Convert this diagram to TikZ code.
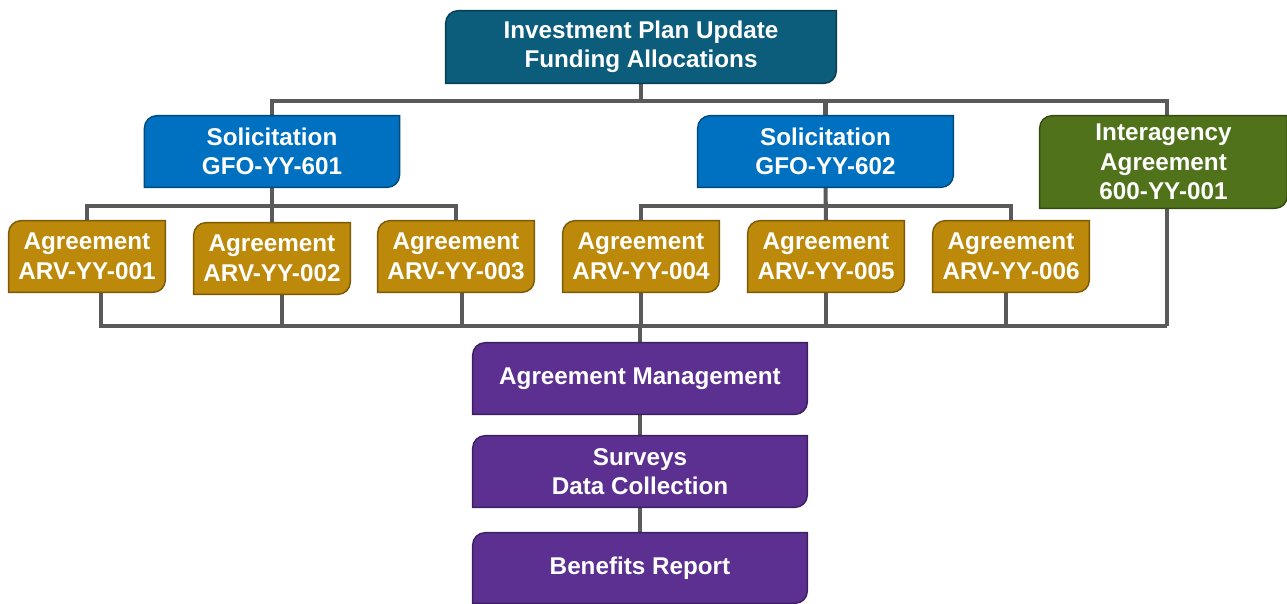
\documentclass[tikz,border=0pt]{standalone}
\usepackage{fontspec}
\setmainfont{Liberation Sans}
\usetikzlibrary{backgrounds}

\definecolor{plancol}{RGB}{12,92,124}
\definecolor{solcol}{RGB}{0,112,192}
\definecolor{intercol}{RGB}{80,114,26}
\definecolor{arvcol}{RGB}{188,137,10}
\definecolor{mgmtcol}{RGB}{92,48,144}
\definecolor{linecol}{RGB}{90,90,90}

\begin{document}
\begin{tikzpicture}[x=0.02cm,y=-0.02cm]
            \tikzstyle{box} = [align=center,inner sep=0pt,text=white,font=\fontsize{13.8}{16.8}\selectfont\bfseries]
            \tikzstyle{conn} = [line width=2.3pt,draw=linecol]
            \def \rad{7pt}
            \useasboundingbox (0,0) rectangle (1287,603);

            % boxes
            \node[box,minimum width=7.8cm,minimum height=1.44cm] (top) at (641,47) {Investment Plan Update\\Funding Allocations};
            \node[box,minimum width=5.09cm,minimum height=1.42cm] (sol1) at (272,151.5) {Solicitation\\GFO-YY-601};
            \node[box,minimum width=5.1cm,minimum height=1.42cm] (sol2) at (825.5,151.5) {Solicitation\\GFO-YY-602};
            \node[box,minimum width=4.94cm,minimum height=1.84cm] (inter) at (1163.5,162) {Interagency\\Agreement\\600-YY-001};
            \node[box,minimum width=3.12cm,minimum height=1.42cm] (a1) at (87,256.5) {Agreement\\ARV-YY-001};
            \node[box,minimum width=3.12cm,minimum height=1.42cm] (a2) at (272,258.5) {Agreement\\ARV-YY-002};
            \node[box,minimum width=3.12cm,minimum height=1.42cm] (a3) at (456,256.5) {Agreement\\ARV-YY-003};
            \node[box,minimum width=3.12cm,minimum height=1.42cm] (a4) at (641,256.5) {Agreement\\ARV-YY-004};
            \node[box,minimum width=3.12cm,minimum height=1.42cm] (a5) at (826,256.5) {Agreement\\ARV-YY-005};
            \node[box,minimum width=3.12cm,minimum height=1.42cm] (a6) at (1011,256.5) {Agreement\\ARV-YY-006};
            \node[box,minimum width=6.68cm,minimum height=1.42cm] (am) at (640,378.5) {Agreement Management};
            \node[box,minimum width=6.68cm,minimum height=1.42cm] (sd) at (640,471.5) {Surveys\\Data Collection};
            \node[box,minimum width=6.68cm,minimum height=1.40cm] (br) at (640,568) {Benefits Report};

            \coordinate (topbus) at (641,101);
            \coordinate (bus601) at (272,206);
            \coordinate (bus602) at (826,206);
            \coordinate (lowbus) at (640,326);
            \coordinate (interline) at ([xshift=0.07cm]inter.north);

            \begin{scope}[on background layer]
            % connectors
            \draw[conn] (top.south) -- (top.south |- topbus);
            \draw[conn] (sol1.north) |- (topbus) -| (interline);
            \draw[conn] (sol2.north) -- (sol2.north |- topbus);
            \draw[conn] (interline) -- (interline |- lowbus);
            \draw[conn] (a1.north) |- (bus601) -| (a3.north);
            \draw[conn] (sol1.south) -- (a2.north);
            \draw[conn] (a4.north) |- (bus602) -| (a6.north);
            \draw[conn] (sol2.south) -- (a5.north);
            \draw[conn] ([xshift=0.28cm]a1.south) |- (interline |- lowbus);
            \foreach \n/\s in {a2/0.2,a3/0.12,a4/0,a5/0,a6/-0.1}
                \draw[conn] ([xshift=\s cm]\n.south) -- ([xshift=\s cm]\n.south |- lowbus);
            \draw[conn] (lowbus) -- (am.north);
            \draw[conn] (am) -- (sd);
            \draw[conn] (sd) -- (br);

            % tab shapes, rounded top left and bottom right
            \foreach \n/\c in {top/plancol,sol1/solcol,sol2/solcol,inter/intercol,a1/arvcol,a2/arvcol,a3/arvcol,a4/arvcol,a5/arvcol,a6/arvcol,am/mgmtcol,sd/mgmtcol,br/mgmtcol}
                \filldraw[fill=\c,draw=\c!65!black,line width=0.8pt]
                    (\n.south west) -- ([yshift=-\rad]\n.north west) arc[start angle=180,end angle=90,radius=\rad]
                    -- (\n.north east) -- ([yshift=\rad]\n.south east) arc[start angle=0,end angle=-90,radius=\rad] -- cycle;
            \end{scope}
\end{tikzpicture}
\end{document}
